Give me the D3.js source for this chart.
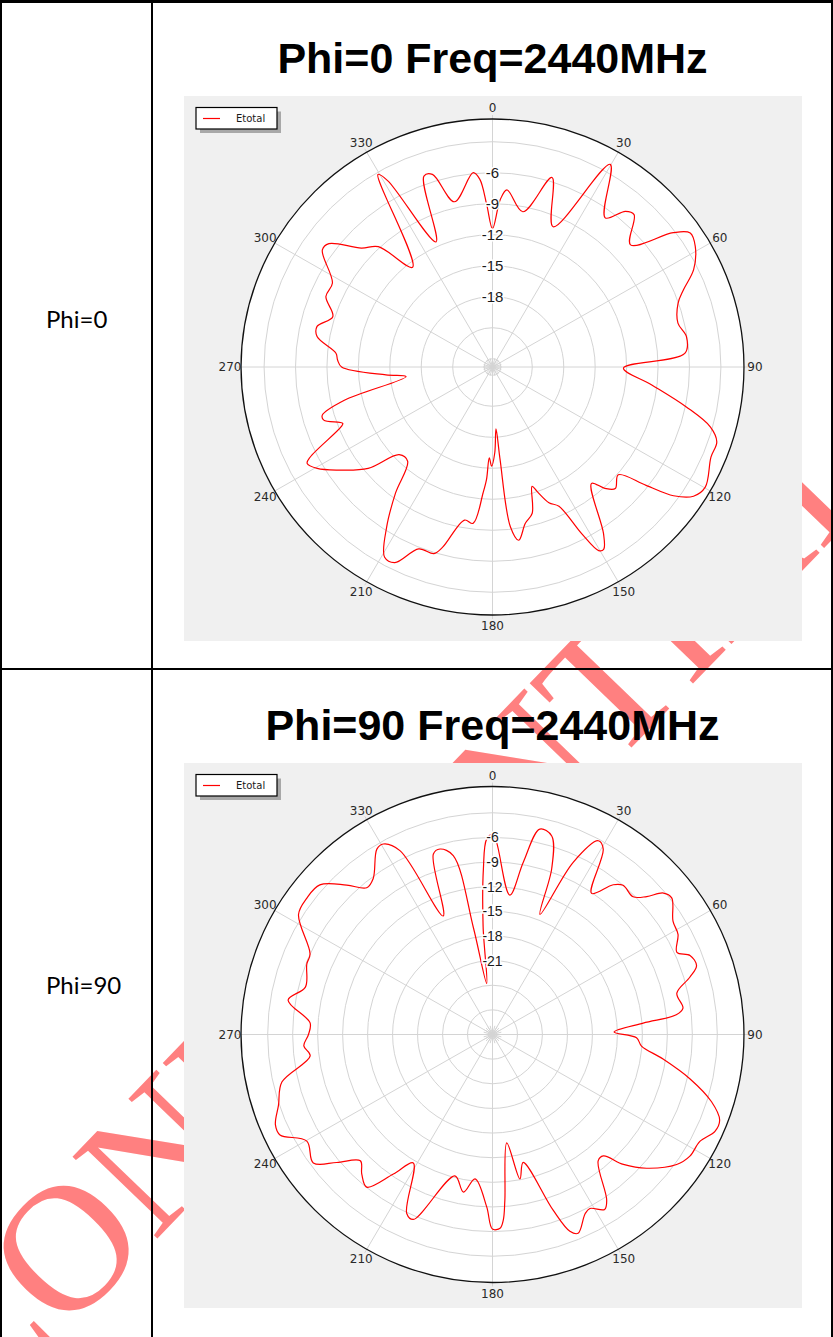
<!DOCTYPE html>
<html>
<head>
<meta charset="utf-8">
<script src="https://cdn.jsdelivr.net/npm/d3@7"></script>
<style>
    body { margin: 0; background: #fff; }
    svg { display: block; }
</style>
</head>
<body>
<div id="page"></div>
<script>
// Angular ticks (degrees, 0 at top, clockwise)
const angleTicks = [0, 30, 60, 90, 120, 150, 180, 210, 240, 270, 300, 330];

// Phi=0 cut, Etotal in dB
const phi0Angles = [0, 2.6, 4.6, 10.9, 17.2, 23.1, 29.8, 36.7, 40.1, 42.5, 48.1, 53, 55.5, 58.9, 63.8, 67.7,
    70.8, 76.5, 81, 85.9, 90.5, 96.5, 101.8, 105.6, 108.7, 112.7, 119.8, 123.1, 125.8, 128, 131, 135.1,
    137.6, 140, 146.7, 149, 150.3, 152.2, 154.8, 157.7, 160.5, 161.9, 165, 168.3, 171.5, 173.7, 175.4,
    176.8, 178.5, 180.5, 182, 183, 184.2, 187, 190.2, 195.3, 197.2, 201.8, 206.2, 209.2, 213.1, 217.2,
    221.6, 226.4, 230.4, 236, 239.6, 242.2, 243.4, 248.2, 249.1, 252.3, 254, 257.2, 263.6, 265.7, 270,
    272.6, 275.1, 280, 283.2, 287.7, 293.2, 298, 304.9, 307.4, 312.6, 316.9, 321.7, 329.6, 331, 336,
    340.5, 342.9, 347.2, 354.4, 356.2, 358];
const phi0Gain = [-11.4, -8.6, -7.6, -9.5, -5.6, -10.05, -2.2, -6.8, -5.1, -4.8, -7.1, -3.2, -1.9, -2.2, -3.4, -5.1,
    -6.05, -6.6, -6.06, -6.4, -12.3, -9.5, -5.9, -3.2, -2.2, -2.2, -1.4, -1.9, -3.5, -6.2, -8.9, -8.2,
    -8.9, -10.1, -5.5, -4.2, -4.35, -6.6, -9.9, -10.6, -12.0, -12.65, -10.15, -9.35, -7.85, -9.25, -15.85,
    -18.8, -16.5, -15.2, -16.0, -13.9, -12.6, -9.55, -9.75, -6.7, -5.9, -5.85, -3.7, -3.7, -6.3, -9.5,
    -12.6, -12.5, -9.4, -6.96, -5.4, -4.8, -5.35, -9.25, -9.5, -7.9, -7.9, -10.3, -16.5, -14.6, -10.4,
    -10.0, -9.8, -7.8, -7.6, -8.8, -7.5, -7.5, -5.0, -5.15, -7.8, -8.85, -12.5, -3.2, -4.2, -11.55,
    -5.2, -5.3, -8.4, -5.9, -6.6, -9.1];

// Phi=90 cut
const phi90Angles = [0, 1.2, 7, 10, 12.8, 16.4, 19.4, 21.3, 24.8, 28.3, 30.5, 34.7, 38.5, 40.8, 45.2, 47.8,
    50, 52.3, 57.5, 61.3, 65.7, 67.9, 71.1, 73.6, 77.2, 82, 83.8, 85.6, 88.8, 91.3, 94.5, 98.3, 102.8,
    107.3, 110.9, 113.8, 117.6, 122, 125.6, 131.35, 135.2, 138, 140.5, 145.8, 147.7, 151.1, 153, 157,
    158.8, 161.2, 166.7, 169.4, 172.6, 175.8, 176.7, 177.8, 180, 181.9, 186.8, 190.3, 194.7, 202.9,
    205.3, 211.3, 215, 219.1, 222.7, 225.9, 230.2, 234, 239.8, 244.4, 247.1, 251.5, 257.1, 263.2, 266.5,
    270, 273.7, 279.7, 284.4, 291.1, 294.1, 302.1, 306.7, 311.3, 316.1, 319.8, 323, 328.4, 330.5, 333.6,
    337.7, 342.1, 344.4, 347.8, 350, 353.6, 355.1, 356.9, 358.3];
const phi90Gain = [-5.6, -6.6, -12.9, -8.7, -4.35, -4.8, -8.6, -14.3, -6.9, -3.2, -3.8, -9.1, -6.7, -6.0, -6.2, -5.0,
    -3.2, -2.8, -4.3, -4.6, -5.7, -4.4, -4.1, -5.3, -7.3, -6.9, -7.8, -11.85, -15.4, -12.7, -12.05, -9.3, -5.7,
    -2.45, -0.8, -0.8, -1.9, -2.05, -2.8, -5.35, -7.7, -10.1, -10.05, -5.6, -4.8, -5.8, -5.5, -3.7,
    -4.3, -7.4, -14.0, -12.1, -16.7, -9.75, -7.4, -6.4, -6.3, -9.0, -12.3, -10.5, -12.2, -5.55,
    -5.9, -11.7, -9.25, -6.05, -6.85, -7.9, -5.65, -3.4, -4.2, -1.7, -1.7, -2.9, -4.05, -7.95, -7.3,
    -7.9, -8.05, -5.1, -6.8, -6.1, -6.0, -2.5, -2.2, -2.4, -4.75, -6.6, -6.2, -3.5, -3.35, -5.0,
    -14.4, -6.9, -6.55, -7.7, -16.8, -23.75, -16.8, -9.8, -6.2];

const phi0RingLabels = [-6, -9, -12, -15, -18];
const phi90RingLabels = [-6, -9, -12, -15, -18, -21];

const width = 833, height = 1337;

const svg = d3.select("#page")
    .append("svg")
    .attr("width", width)
    .attr("height", height);

// Watermark sits underneath everything
svg.append("text")
    .attr("transform", "translate(-20,1422) rotate(-46)")
    .style("font-family", "'Liberation Serif', 'Times New Roman', serif")
    .style("font-size", "180px")
    .style("fill", "#ff8080")
    .text("CONFIDENTIAL");

// Table borders
const lines = svg.append("g").attr("stroke", "#000");
lines.append("line").attr("x1", 0).attr("x2", width).attr("y1", 1.5).attr("y2", 1.5).attr("stroke-width", 3);
lines.append("line").attr("x1", 1).attr("x2", 1).attr("y1", 0).attr("y2", height).attr("stroke-width", 2);
lines.append("line").attr("x1", 152).attr("x2", 152).attr("y1", 0).attr("y2", height).attr("stroke-width", 2);
lines.append("line").attr("x1", 832).attr("x2", 832).attr("y1", 0).attr("y2", height).attr("stroke-width", 2);
lines.append("line").attr("x1", 0).attr("x2", width).attr("y1", 669).attr("y2", 669).attr("stroke-width", 2);

// Row labels
const rowLabels = [{ text: "Phi=0", y: 328 }, { text: "Phi=90", y: 994 }];
svg.selectAll(".row-label")
    .data(rowLabels)
    .enter().append("text")
    .attr("class", "row-label")
    .attr("x", 46)
    .attr("y", d => d.y)
    .style("font-family", "Lato, 'Open Sans', sans-serif")
    .style("font-size", "24px")
    .style("fill", "#000")
    .text(d => d.text);

function drawPolar(cfg) {
    const boxX = 184, boxW = 618, boxH = 545;
    const cx = 492.5, cy = cfg.cy;
    const R = 248, sx = 1.014;   // picture is a touch wider than tall

    // Title
    svg.append("text")
        .attr("x", cx)
        .attr("y", cfg.titleY)
        .attr("text-anchor", "middle")
        .style("font-family", "'Liberation Sans', Arial, sans-serif")
        .style("font-weight", "bold")
        .style("font-size", "43px")
        .style("fill", "#000")
        .text(cfg.title);

    svg.append("rect")
        .attr("x", boxX).attr("y", cfg.top)
        .attr("width", boxW).attr("height", boxH)
        .attr("fill", "#f0f0f0");

    const r = d3.scaleLinear().domain(cfg.domain).range([0, R]).clamp(true);

    const g = svg.append("g").attr("transform", `translate(${cx},${cy}) scale(${sx},1)`);

    g.append("circle").attr("r", R).attr("fill", "#fff");

    // Rings every 3 dB
    const rings = d3.range(-3, cfg.domain[0], -3);
    g.selectAll(".ring")
        .data(rings)
        .enter().append("circle")
        .attr("class", "ring")
        .attr("r", d => r(d))
        .attr("fill", "none")
        .attr("stroke", "#d4d4d4")
        .attr("stroke-width", 1)
        .attr("vector-effect", "non-scaling-stroke");

    // Spokes
    g.selectAll(".spoke")
        .data(angleTicks)
        .enter().append("line")
        .attr("class", "spoke")
        .attr("x1", 0).attr("y1", 0)
        .attr("x2", d => (R + 4) * Math.sin(d * Math.PI / 180))
        .attr("y2", d => -(R + 4) * Math.cos(d * Math.PI / 180))
        .attr("stroke", "#d4d4d4")
        .attr("vector-effect", "non-scaling-stroke");

    // denser spokes round the centre
    g.selectAll(".hub")
        .data(d3.range(0, 360, 15))
        .enter().append("line")
        .attr("x1", 0).attr("y1", 0)
        .attr("x2", d => 9 * Math.sin(d * Math.PI / 180))
        .attr("y2", d => -9 * Math.cos(d * Math.PI / 180))
        .attr("stroke", "#d4d4d4")
        .attr("vector-effect", "non-scaling-stroke");

    g.append("circle")
        .attr("r", R)
        .attr("fill", "none")
        .attr("stroke", "#111")
        .attr("stroke-width", 1.3)
        .attr("vector-effect", "non-scaling-stroke");

    // Angle labels
    svg.append("g").selectAll("text")
        .data(angleTicks)
        .enter().append("text")
        .attr("x", d => cx + (R * sx + 11) * Math.sin(d * Math.PI / 180))
        .attr("y", d => cy - (R + 11) * Math.cos(d * Math.PI / 180))
        .attr("dy", "0.36em")
        .attr("text-anchor", "middle")
        .style("font-family", "'DejaVu Sans', sans-serif")
        .style("font-size", "12px")
        .style("fill", "#2a2a2a")
        .text(d => d);

    // Ring labels
    svg.append("g").selectAll("text")
        .data(cfg.ringLabels)
        .enter().append("text")
        .attr("x", cx)
        .attr("y", d => cy - r(d))
        .attr("dy", "0.36em")
        .attr("text-anchor", "middle")
        .style("font-family", "'Liberation Sans', Arial, sans-serif")
        .style("font-size", cfg.labelSize + "px")
        .style("fill", "#1a1a1a")
        .style("paint-order", "stroke")
        .style("stroke", "#fff")
        .style("stroke-width", 3)
        .text(d => d);

    // Pattern
    const pts = cfg.angles.map((a, i) => ({ a: a, v: cfg.gain[i] }));
    const line = d3.lineRadial()
        .angle(d => d.a * Math.PI / 180)
        .radius(d => r(d.v))
        .curve(d3.curveCatmullRomClosed.alpha(0.5));

    g.append("path")
        .datum(pts)
        .attr("d", line)
        .attr("fill", "none")
        .attr("stroke", "#ff0000")
        .attr("stroke-width", 1.2)
        .attr("vector-effect", "non-scaling-stroke");

    // Legend
    const lx = 196, ly = cfg.top + 11.5;
    svg.append("rect")
        .attr("x", lx + 4).attr("y", ly + 4)
        .attr("width", 81).attr("height", 21.5)
        .attr("fill", "#a8a8a8");
    svg.append("rect")
        .attr("x", lx).attr("y", ly)
        .attr("width", 81).attr("height", 21.5)
        .attr("fill", "#fff")
        .attr("stroke", "#000")
        .attr("stroke-width", 1.2);
    svg.append("line")
        .attr("x1", lx + 7).attr("x2", lx + 24)
        .attr("y1", ly + 11).attr("y2", ly + 11)
        .attr("stroke", "#ff0000")
        .attr("stroke-width", 1.2);
    svg.append("text")
        .attr("x", lx + 40)
        .attr("y", ly + 14.5)
        .style("font-family", "'DejaVu Sans', sans-serif")
        .style("font-size", "10px")
        .style("fill", "#1a1a1a")
        .text("Etotal");
}

drawPolar({
    title: "Phi=0 Freq=2440MHz", titleY: 73, top: 96, cy: 367,
    domain: [-24.8, -0.8], angles: phi0Angles, gain: phi0Gain,
    ringLabels: phi0RingLabels, labelSize: 15
});

drawPolar({
    title: "Phi=90 Freq=2440MHz", titleY: 740, top: 763, cy: 1034.5,
    domain: [-30, 0.2], angles: phi90Angles, gain: phi90Gain,
    ringLabels: phi90RingLabels, labelSize: 14
});
</script>
</body>
</html>
